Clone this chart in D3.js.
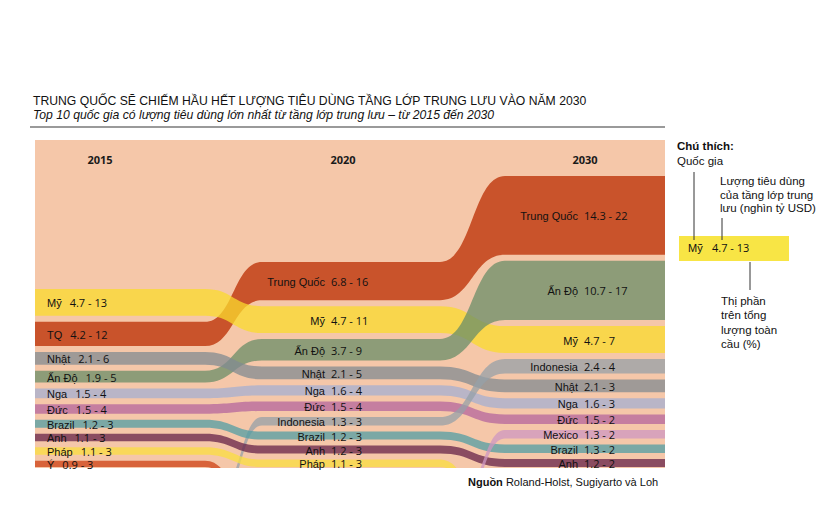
<!DOCTYPE html>
<html><head><meta charset="utf-8">
<script src="https://cdn.jsdelivr.net/npm/d3@7"></script>
<style>body{margin:0;background:#fff}svg{display:block}</style>
</head><body>
<svg id="chart" width="832" height="526"></svg>
<script>
// ---------------- DATA ----------------
const years = ["2015", "2020", "2030"];
const order2015 = ["Mỹ","Trung Quốc","Nhật","Ấn Độ","Nga","Đức","Brazil","Anh","Pháp","Ý"];
const labels2015 = ["Mỹ","TQ","Nhật","Ấn Độ","Nga","Đức","Brazil","Anh","Pháp","Ý"];
const spend2015 = [4.7, 4.2, 2.1, 1.9, 1.5, 1.5, 1.2, 1.1, 1.1, 0.9];
const share2015 = [13, 12, 6, 5, 4, 4, 3, 3, 3, 3];
const order2020 = ["Trung Quốc","Mỹ","Ấn Độ","Nhật","Nga","Đức","Indonesia","Brazil","Anh","Pháp"];
const labels2020 = order2020;
const spend2020 = [6.8, 4.7, 3.7, 2.1, 1.6, 1.5, 1.3, 1.2, 1.2, 1.1];
const share2020 = [16, 11, 9, 5, 4, 4, 3, 3, 3, 3];
const order2030 = ["Trung Quốc","Ấn Độ","Mỹ","Indonesia","Nhật","Nga","Đức","Mexico","Brazil","Anh"];
const labels2030 = order2030;
const spend2030 = [14.3, 10.7, 4.7, 2.4, 2.1, 1.6, 1.5, 1.3, 1.3, 1.2];
const share2030 = [22, 17, 7, 4, 3, 3, 2, 2, 2, 2];
const countries = ["Trung Quốc","Mỹ","Ấn Độ","Nhật","Nga","Đức","Indonesia","Brazil","Anh","Pháp","Ý","Mexico"];
const legendSample = {name: "Mỹ", spend: 4.7, share: 13};

// ---------------- STYLE / LAYOUT ----------------
const colors = {
  "Trung Quốc": "#c8532b", "Mỹ": "#f8d64d", "Ấn Độ": "#8c9c78", "Nhật": "#9e9a97",
  "Nga": "#b8b5c8", "Đức": "#c47ea0", "Indonesia": "#aeaaa8", "Brazil": "#7aa8a5",
  "Anh": "#8a4c62", "Pháp": "#f8d85a", "Ý": "#d8633a", "Mexico": "#d8a3bb"
};
const bg = "#f5c7a9";
const alpha = 0.75;
const plot = {x0: 35, x1: 665, y0: 140, y1: 468};
const cols = [[35, 205], [262, 440], [505, 665]];
const headerX = [100, 343, 585];
const stackBottom = 467, gap = 6, offY = 488, offDx = 42;
const nameFont = "'Liberation Sans', Arial, sans-serif";
const numFont = "'Open Sans', 'DejaVu Sans', sans-serif";

const svg = d3.select("#chart");
const thick = d3.scaleLinear().domain([0, 10]).range([1.5, 55.5]);

// compensated fill so that alpha over bg shows the target colour
const bgc = d3.rgb(bg);
function baseColor(t) {
  const c = d3.rgb(t);
  const f = (v, b) => Math.max(0, Math.min(255, (v - (1 - alpha) * b) / alpha));
  return d3.rgb(f(c.r, bgc.r), f(c.g, bgc.g), f(c.b, bgc.b)).formatHex();
}

// ---------------- LAYOUT COMPUTATION ----------------
const yearData = [
  {order: order2015, labels: labels2015, spend: spend2015, share: share2015},
  {order: order2020, labels: labels2020, spend: spend2020, share: share2020},
  {order: order2030, labels: labels2030, spend: spend2030, share: share2030}
];
const pos = yearData.map(yd => {
  const m = new Map();
  let y = stackBottom;
  for (let i = yd.order.length - 1; i >= 0; i--) {
    const bot = y, top = bot - thick(yd.spend[i]);
    m.set(yd.order[i], {top, bot, label: yd.labels[i], spend: yd.spend[i], share: yd.share[i]});
    y = top - gap;
  }
  return m;
});

// ---------------- BACKGROUND ----------------
svg.append("defs").append("clipPath").attr("id", "plotClip")
  .append("rect").attr("x", plot.x0).attr("y", plot.y0)
  .attr("width", plot.x1 - plot.x0).attr("height", plot.y1 - plot.y0);
svg.append("rect").attr("x", plot.x0).attr("y", plot.y0)
  .attr("width", plot.x1 - plot.x0).attr("height", plot.y1 - plot.y0).attr("fill", bg);

// ---------------- BANDS ----------------
const gBands = svg.append("g").attr("clip-path", "url(#plotClip)");
countries.forEach(c => {
  const stations = [];
  for (let i = 0; i < 3; i++) {
    const p = pos[i].get(c);
    if (!p) continue;
    const th = p.bot - p.top;
    if (i > 0 && !pos[i - 1].get(c)) {
      const x = cols[i][0] - offDx;
      stations.push({xa: x, xb: x, top: offY, bot: offY + th});
    }
    stations.push({xa: cols[i][0], xb: cols[i][1], top: p.top, bot: p.bot});
    if (i < 2 && !pos[i + 1].get(c)) {
      const x = cols[i][1] + offDx;
      stations.push({xa: x, xb: x, top: offY, bot: offY + th});
    }
  }
  const path = d3.path();
  stations.forEach((s, k) => {
    if (k === 0) path.moveTo(s.xa, s.top);
    else {
      const p = stations[k - 1], xm = (p.xb + s.xa) / 2;
      path.bezierCurveTo(xm, p.top, xm, s.top, s.xa, s.top);
    }
    path.lineTo(s.xb, s.top);
  });
  for (let k = stations.length - 1; k >= 0; k--) {
    const s = stations[k];
    if (k === stations.length - 1) path.lineTo(s.xb, s.bot);
    path.lineTo(s.xa, s.bot);
    if (k > 0) {
      const p = stations[k - 1], xm = (p.xb + s.xa) / 2;
      path.bezierCurveTo(xm, s.bot, xm, p.bot, p.xb, p.bot);
    }
  }
  path.closePath();
  gBands.append("path").attr("d", path.toString())
    .attr("fill", baseColor(colors[c])).attr("fill-opacity", alpha);
});

// ---------------- HEADERS ----------------
svg.selectAll("text.year").data(years).join("text")
  .attr("x", (d, i) => headerX[i]).attr("y", 164)
  .attr("text-anchor", "middle").attr("font-family", numFont)
  .attr("font-weight", "bold").attr("font-size", 11).attr("fill", "#1a1a1a")
  .text(d => d);

// ---------------- LABELS ----------------
const fmt = (s, sh) => `${s} - ${sh}`;
const gLab = svg.append("g").attr("fill", "#111");
pos.forEach((m, i) => {
  m.forEach((p, key) => {
    const cy = (p.top + p.bot) / 2 + 5;
    if (i === 0) {
      const t = gLab.append("text").attr("x", 47).attr("y", cy)
        .attr("font-family", nameFont).attr("font-size", 11).text(p.label);
      const w = t.node().getComputedTextLength();
      gLab.append("text").attr("x", 47 + w + 8).attr("y", cy)
        .attr("font-family", numFont).attr("font-size", 11).text(fmt(p.spend, p.share));
    } else {
      const xName = i === 1 ? 325 : 578;
      gLab.append("text").attr("x", xName).attr("y", cy).attr("text-anchor", "end")
        .attr("font-family", nameFont).attr("font-size", 11).text(p.label);
      gLab.append("text").attr("x", xName + 6).attr("y", cy)
        .attr("font-family", numFont).attr("font-size", 11).text(fmt(p.spend, p.share));
    }
  });
});

// ---------------- TITLE ----------------
svg.append("text").attr("x", 33).attr("y", 105)
  .attr("font-family", nameFont).attr("font-size", 12.2).attr("fill", "#111")
  .text("TRUNG QUỐC SẼ CHIẾM HẦU HẾT LƯỢNG TIÊU DÙNG TẦNG LỚP TRUNG LƯU VÀO NĂM 2030");
svg.append("text").attr("x", 33).attr("y", 119)
  .attr("font-family", nameFont).attr("font-size", 12.2).attr("font-style", "italic").attr("fill", "#111")
  .text("Top 10 quốc gia có lượng tiêu dùng lớn nhất từ tầng lớp trung lưu – từ 2015 đến 2030");
svg.append("line").attr("x1", 30).attr("x2", 665).attr("y1", 127).attr("y2", 127)
  .attr("stroke", "#9a9a9a").attr("stroke-width", 2);

// ---------------- LEGEND ----------------
const lg = svg.append("g").attr("fill", "#111").attr("font-family", nameFont).attr("font-size", 11.5);
lg.append("text").attr("x", 677).attr("y", 150).attr("font-weight", "bold").text("Chú thích:");
lg.append("text").attr("x", 677).attr("y", 165).text("Quốc gia");
["Lượng tiêu dùng", "của tầng lớp trung", "lưu (nghìn tỷ USD)"].forEach((s, i) =>
  lg.append("text").attr("x", 720).attr("y", 185 + i * 13.5).text(s));
lg.append("rect").attr("x", 679).attr("y", 236).attr("width", 110).attr("height", 25).attr("fill", "#f8e545");
lg.append("text").attr("x", 688).attr("y", 252).attr("font-size", 11).text(legendSample.name);
lg.append("text").attr("x", 712).attr("y", 252).attr("font-family", numFont).attr("font-size", 11)
  .text(fmt(legendSample.spend, legendSample.share));
const ll = [[694, 172, 694, 240], [722, 218, 722, 240], [750, 262, 750, 290]];
ll.forEach(d => lg.append("line").attr("x1", d[0]).attr("y1", d[1]).attr("x2", d[2]).attr("y2", d[3])
  .attr("stroke", "#333").attr("stroke-width", 1));
["Thị phần", "trên tổng", "lượng toàn", "cầu (%)"].forEach((s, i) =>
  lg.append("text").attr("x", 721).attr("y", 305 + i * 14.3).text(s));

// ---------------- SOURCE ----------------
const src = svg.append("text").attr("x", 468).attr("y", 486)
  .attr("font-family", nameFont).attr("font-size", 11).attr("fill", "#111");
src.append("tspan").attr("font-weight", "bold").text("Nguồn");
src.append("tspan").text(" Roland-Holst, Sugiyarto và Loh");
</script>
</body></html>
